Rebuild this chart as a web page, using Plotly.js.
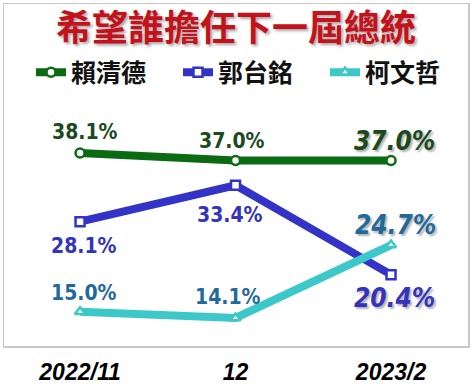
<!DOCTYPE html>
<html><head><meta charset="utf-8">
<script src="https://cdn.plot.ly/plotly-3.0.1.min.js"></script>
<style>html,body{margin:0;padding:0;background:#fff;}#chart{width:472px;height:390px;}</style>
</head><body><div id="chart"></div>
<script>
const categories = ['2022/11', '12', '2023/2'];
const seriesNames = ['賴清德', '郭台銘', '柯文哲'];
const laiValues = [38.1, 37.0, 37.0];
const gouValues = [28.1, 33.4, 20.4];
const koValues = [15.0, 14.1, 24.7];

const lineColors = ['#0b6b12', '#3333c8', '#3cc8c8'];
const labelColors = ['#1b4a1e', '#3333bb', '#1f6a9a'];
const symbols = ['circle', 'square', 'triangle-up'];
const allValues = [laiValues, gouValues, koValues];
const labelShift = [
  [[5,-21],[-4,-20],[3,-20]],
  [[4,24],[-6,30],[3,23]],
  [[4,-19],[-8,-21],[4,-20]]
];

const traces = allValues.map((vals, i) => ({
  type: 'scatter', mode: 'lines+markers', name: seriesNames[i],
  x: categories, y: vals,
  line: {color: lineColors[i], width: 8},
  marker: {symbol: symbols[i], size: 9, color: '#ffffff', line: {color: lineColors[i], width: 2.5}},
  hoverinfo: 'skip'
}));

const annotations = [];
allValues.forEach((vals, i) => {
  vals.forEach((v, j) => {
    const last = j === vals.length - 1;
    annotations.push({
      x: j, y: v, xref: 'x', yref: 'y',
      text: v.toFixed(1) + '%', showarrow: false,
      xshift: labelShift[i][j][0], yshift: -labelShift[i][j][1],
      font: {family: 'Liberation Sans Narrow, DejaVu Sans Condensed, Arial Narrow, sans-serif', size: last ? 26 : 21,
             color: labelColors[i], weight: 'bold', style: last ? 'italic' : 'normal',
             shadow: last ? '2px 2px 2px rgba(0,0,0,0.3)' : 'none'}
    });
  });
});

const layout = {
  width: 472, height: 390,
  margin: {l: 4, r: 4, t: 4, b: 44},
  paper_bgcolor: '#ffffff', plot_bgcolor: '#ffffff',
  showlegend: true,
  title: {text: '希望誰擔任下一屆總統', x: 0.5, xanchor: 'center', y: 1 - 28/390, yanchor: 'middle', yref: 'container',
          font: {family: 'Noto Sans CJK TC, sans-serif', size: 36, color: '#c4121c', weight: 'bold',
                 shadow: '2px 2px 3px rgba(0,0,0,0.35)'}},
  legend: {orientation: 'h', x: 0.071, xanchor: 'left', y: 0.80, yanchor: 'middle',
           font: {family: 'Noto Sans CJK TC, sans-serif', size: 25, color: '#111', weight: 'bold'},
           entrywidth: 102, entrywidthmode: 'pixels', bgcolor: 'rgba(0,0,0,0)', itemclick: false},
  xaxis: {type: 'category', range: [-0.489, 2.495], showgrid: false, zeroline: false,
          showline: true, mirror: true, linecolor: '#c8c8c8', linewidth: 1.5,
          ticks: '', ticklabelstandoff: 5,
          tickfont: {family: 'Liberation Sans, Arial, sans-serif', size: 23, color: '#000', weight: 'bold', style: 'italic'}},
  yaxis: {range: [10.02, 59.77], showgrid: false, zeroline: false, showticklabels: false,
          showline: true, mirror: true, linecolor: '#c8c8c8', linewidth: 1.5, ticks: ''},
  annotations: annotations
};

Plotly.newPlot('chart', traces, layout, {displayModeBar: false, staticPlot: true});
</script></body></html>
